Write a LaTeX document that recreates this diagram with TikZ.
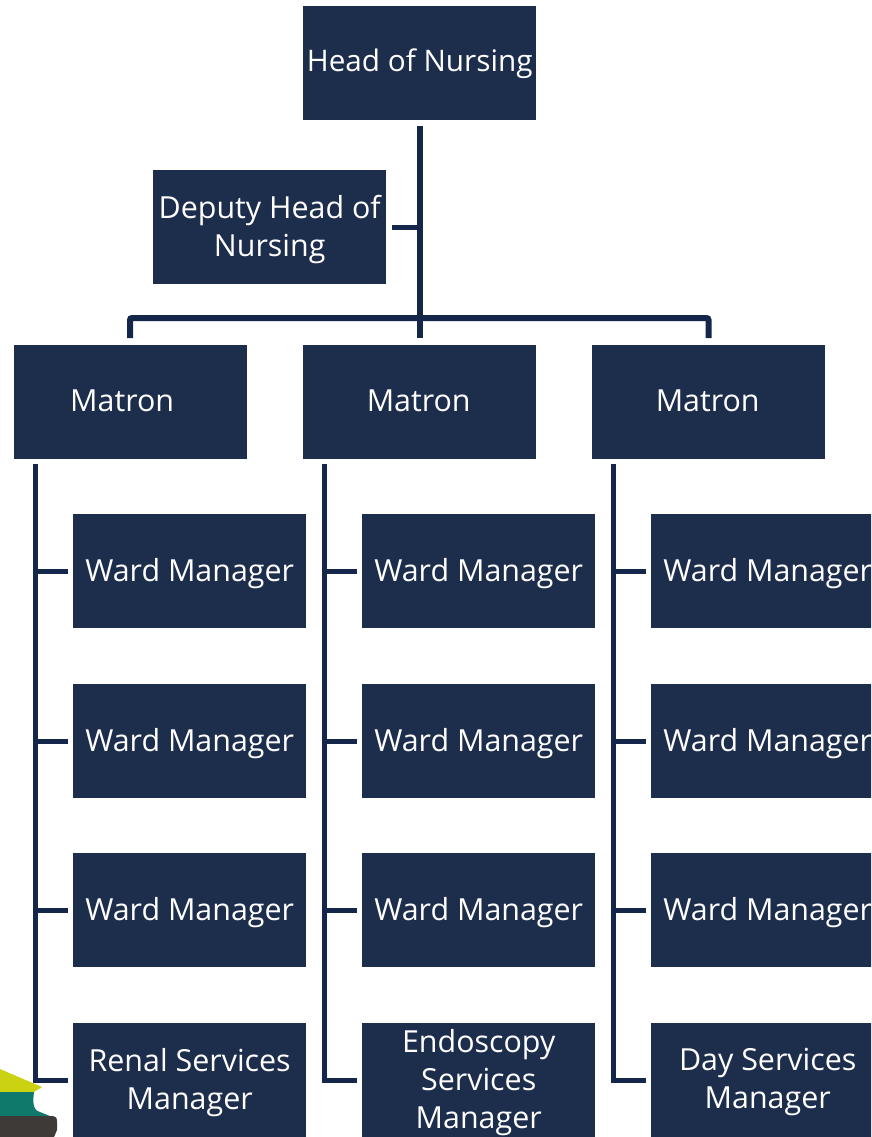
\documentclass[tikz,border=0pt]{standalone}
\usepackage{fontspec}
\setmainfont{Open Sans}
\definecolor{navy}{HTML}{1D2D4C}
\definecolor{linecol}{HTML}{14264A}
\definecolor{logoY}{HTML}{CBD211}
\definecolor{logoT}{HTML}{0F7A6C}
\definecolor{logoD}{HTML}{3E3A38}
\newcommand\dn[2]{\raisebox{-#1pt}[\height][\depth]{#2}}
\tikzset{
  orgbox/.style={fill=navy,draw=none,minimum width=233pt,minimum height=114pt,inner sep=0pt,
    text=white,align=center,font=\fontsize{30.4}{38}\selectfont,anchor=north west},
  trunk/.style={draw=linecol,line width=6pt},
  tick/.style={draw=linecol,line width=5pt}
}
\begin{document}
\begin{tikzpicture}[x=1pt,y=-1pt]
\useasboundingbox (0,0) rectangle (871,1137);
\clip (0,0) rectangle (871,1137);
% logo
\fill[logoY] (0,1069) -- (42,1087) -- (34,1092) -- (0,1092) -- cycle;
\fill[logoT] (0,1092) -- (34,1092) .. controls (33,1100) and (32,1110) .. (40,1112) -- (50,1116) -- (0,1116) -- cycle;
\fill[logoD] (0,1116) -- (53,1116) .. controls (56,1116) and (57,1118) .. (57,1122) -- (57,1130) -- (54,1137) -- (0,1137) -- cycle;
% boxes
\node[orgbox,font=\fontsize{29.7}{38}\selectfont] (head) at (303,6) {\dn{1}{Head of Nursing}};
\node[orgbox] (deputy) at (153,170) {\dn{2}{Deputy Head of}\\\dn{2}{Nursing}};
\node[orgbox] (m1) at (14,345) {\hspace*{-17pt}\dn{-1}{Matron}};
\node[orgbox] (m2) at (303,345) {\hspace*{-2pt}\dn{-1}{Matron}};
\node[orgbox] (m3) at (592,345) {\hspace*{-2pt}\dn{-1}{Matron}};
\node[orgbox] (w11) at (73,514) {\dn{2.5}{Ward Manager}};
\node[orgbox] (w12) at (73,684) {\dn{2.5}{Ward Manager}};
\node[orgbox] (w13) at (73,853) {\dn{2.5}{Ward Manager}};
\node[orgbox] (w14) at (73,1023) {\dn{2}{Renal Services}\\\dn{2}{Manager}};
\node[orgbox] (w21) at (362,514) {\dn{2.5}{Ward Manager}};
\node[orgbox] (w22) at (362,684) {\dn{2.5}{Ward Manager}};
\node[orgbox] (w23) at (362,853) {\dn{2.5}{Ward Manager}};
\node[orgbox] (w24) at (362,1023) {\dn{2.5}{Endoscopy}\\\dn{2.5}{Services}\\\dn{2.5}{Manager}};
\node[orgbox] (w31) at (651,514) {\dn{2.5}{Ward Manager}};
\node[orgbox] (w32) at (651,684) {\dn{2.5}{Ward Manager}};
\node[orgbox] (w33) at (651,853) {\dn{2.5}{Ward Manager}};
\node[orgbox] (w34) at (651,1023) {\dn{2}{Day Services}\\\dn{2}{Manager}};
% junctions
\coordinate (t1) at (35,464);
\coordinate (t2) at (324,464);
\coordinate (t3) at (613,464);
\coordinate (b1) at (130,345);
\coordinate (b3) at (708.5,345);
% head trunk
\draw[trunk,shorten <=6pt,shorten >=7pt] (head.south) -- (m2.north);
\draw[tick,shorten <=6pt] (deputy.east) -- (deputy.east -| head.south);
\draw[trunk,rounded corners=2pt,shorten <=7pt,shorten >=7pt] (b1) -- (130,318) -- (708.5,318) -- (b3);
% column 1
\draw[tick] (t1) |- ([xshift=-5pt]w14.west);
\draw[tick,shorten >=5pt] (w11.west -| t1) -- (w11.west);
\draw[tick,shorten >=5pt] (w12.west -| t1) -- (w12.west);
\draw[tick,shorten >=5pt] (w13.west -| t1) -- (w13.west);
% column 2
\draw[tick] (t2) |- ([xshift=-5pt]w24.west);
\draw[tick,shorten >=5pt] (w21.west -| t2) -- (w21.west);
\draw[tick,shorten >=5pt] (w22.west -| t2) -- (w22.west);
\draw[tick,shorten >=5pt] (w23.west -| t2) -- (w23.west);
% column 3
\draw[tick] (t3) |- ([xshift=-5pt]w34.west);
\draw[tick,shorten >=5pt] (w31.west -| t3) -- (w31.west);
\draw[tick,shorten >=5pt] (w32.west -| t3) -- (w32.west);
\draw[tick,shorten >=5pt] (w33.west -| t3) -- (w33.west);
\end{tikzpicture}
\end{document}
